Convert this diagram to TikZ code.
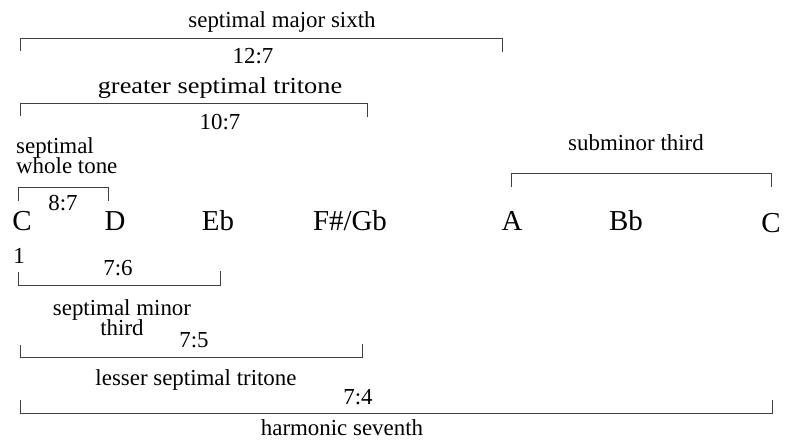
\documentclass[tikz,border=0pt]{standalone}
\usepackage{fontspec}
\setmainfont{Liberation Serif}
\begin{document}
\begin{tikzpicture}[x=1bp,y=-1bp,
  lbl/.style={font=\fontsize{23}{23}\selectfont, inner sep=0pt, anchor=base},
  note/.style={font=\fontsize{29}{29}\selectfont, inner sep=0pt, anchor=base},
  brk/.style={line width=0.7pt, black!75}]
\useasboundingbox (0,0) rectangle (785,441);
% notes
\node[note] (C1) at (22,231) {C};
\node[note] (D) at (115,231) {D};
\node[note] (Eb) at (218,231) {Eb};
\node[note] (FG) at (350,231) {F\#/Gb};
\node[note] (A) at (512,231) {A};
\node[note] (Bb) at (626,231) {Bb};
\node[note] (C2) at (771,233) {C};
% labels above
\node[lbl] (l1) at (282,28) {septimal major sixth};
\node[lbl] (r1) at (253,64) {12:7};
\node[lbl] (l2) at (220,94) {\scalebox{1.15}[1]{greater septimal tritone}};
\node[lbl] (r2) at (220,130) {10:7};
\node[lbl, align=left, anchor=base west] (l3) at (16,174) {septimal\\[-2pt]whole tone};
\node[lbl] (r3) at (63,211) {8:7};
\node[lbl] (l4) at (636,151) {subminor third};
% labels below
\node[lbl] (one) at (19,264) {1};
\node[lbl] (r5) at (118,276) {7:6};
\node[lbl, align=center, anchor=base] (l5) at (122,336) {septimal minor\\[-2pt]third};
\node[lbl] (r6) at (194,348) {7:5};
\node[lbl] (l6) at (196,386) {lesser septimal tritone};
\node[lbl] (r7) at (358,404) {7:4};
\node[lbl] (l7) at (342,435) {harmonic seventh};
% brackets above
\draw[brk] (20,51) -- (20,38) -- (502,38) -- (502,52);
\draw[brk] (20,116) -- (20,103) -- (367,103) -- (367,117);
\draw[brk] (18,201) -- (18,187) -- (108,187) -- (108,201);
\draw[brk] (511,187) -- (511,173) -- (771,173) -- (771,187);
% brackets below
\draw[brk] (18,272) -- (18,285) -- (220,285) -- (220,271);
\draw[brk] (20,345) -- (20,357) -- (362,357) -- (362,344);
\draw[brk] (20,400) -- (20,413) -- (772,413) -- (772,400);
\end{tikzpicture}
\end{document}
